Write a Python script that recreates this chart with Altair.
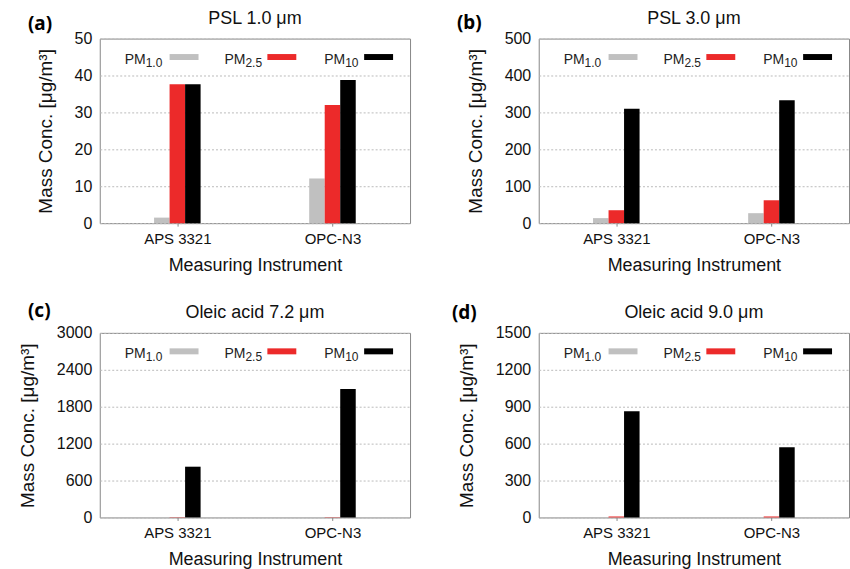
import altair as alt
import pandas as pd

# ---------------- data ----------------
instruments = ["APS 3321", "OPC-N3"]
series = ["PM1.0", "PM2.5", "PM10"]
series_sub = ["1.0", "2.5", "10"]
colors = ["#c0c0c0", "#ec2a2a", "#000000"]

psl10_pm1 = [1.5, 12.1]
psl10_pm25 = [37.6, 32.0]
psl10_pm10 = [37.6, 38.8]

psl30_pm1 = [13.6, 27.0]
psl30_pm25 = [35.0, 62.0]
psl30_pm10 = [310.0, 333.0]

ole72_pm1 = [1.0, 1.0]
ole72_pm25 = [5.0, 5.0]
ole72_pm10 = [825.0, 2089.0]

ole90_pm1 = [1.0, 1.0]
ole90_pm25 = [8.0, 8.0]
ole90_pm10 = [863.0, 570.0]

panel_titles = ["PSL 1.0 μm", "PSL 3.0 μm", "Oleic acid 7.2 μm", "Oleic acid 9.0 μm"]
panel_letters = ["(a)", "(b)", "(c)", "(d)"]
y_max = [50, 500, 3000, 1500]
y_step = [10, 100, 600, 300]

# ---------------- styling ----------------
FONT = "Liberation Sans"
W, H = 311, 185
letter_pos = [(-72, -9), (-82, -10), (-72, -16), (-87, -14)]
leg_pm_x = [25, 125, 225]
leg_sw_x = [70, 168, 265]
label_expr = "[" + ",".join("'" + s + "'" for s in instruments) + "][datum.value]"


def make_df(pm1, pm25, pm10):
    rows = []
    for j, (name, vals) in enumerate(zip(series, [pm1, pm25, pm10])):
        for i, inst in enumerate(instruments):
            rows.append({"i": i, "instrument": inst, "j": j, "series": name, "value": vals[i]})
    return pd.DataFrame(rows)


def one(text):
    return alt.Chart(pd.DataFrame({"t": [text]}))


def panel(k, pm1, pm25, pm10):
    df = make_df(pm1, pm25, pm10)
    bars = (
        alt.Chart(df)
        .transform_calculate(x0="datum.i + (datum.j - 1.5) * 0.1", x1="datum.i + (datum.j - 0.5) * 0.1")
        .mark_rect(strokeWidth=0)
        .encode(
            x=alt.X(
                "x0:Q",
                scale=alt.Scale(domain=[-0.5, 1.5], nice=False, zero=False),
                axis=alt.Axis(
                    values=[0, 1], labelExpr=label_expr, title="Measuring Instrument",
                    grid=False, domain=False, ticks=True, tickSize=3, tickColor="#888888",
                    labelFont=FONT, labelFontSize=15, labelColor="#111111", labelPadding=5,
                    labelAngle=0, titleFont=FONT, titleFontSize=18, titleFontWeight="normal",
                    titleColor="#111111", titlePadding=10,
                ),
            ),
            x2="x1:Q",
            y=alt.Y(
                "value:Q",
                scale=alt.Scale(domain=[0, y_max[k]], nice=False),
                axis=alt.Axis(
                    values=list(range(0, y_max[k] + 1, y_step[k])), format="d",
                    title="Mass Conc. [μg/m³]",
                    grid=True, gridDash=[2, 2], gridColor="#bbbbbb", gridWidth=1,
                    domain=False, ticks=False, tickSize=0,
                    labelFont=FONT, labelFontSize=16, labelColor="#111111", labelPadding=8,
                    titleFont=FONT, titleFontSize=19, titleFontWeight="normal",
                    titleColor="#111111", titlePadding=19,
                ),
            ),
            y2=alt.datum(0),
            color=alt.Color("series:N", scale=alt.Scale(domain=series, range=colors), legend=None),
        )
    )
    layers = [bars]
    layers.append(
        one(panel_titles[k]).mark_text(font=FONT, fontSize=18, baseline="middle", align="center", color="#111111")
        .encode(text="t:N", x=alt.value(W / 2), y=alt.value(-20))
    )
    lx, ly = letter_pos[k]
    layers.append(
        one(panel_letters[k]).mark_text(font="Noto Sans", fontSize=19, fontWeight="bold", baseline="alphabetic",
                                       align="left", color="#000000")
        .encode(text="t:N", x=alt.value(lx), y=alt.value(ly))
    )
    for n in range(3):
        layers.append(
            one("PM").mark_text(font=FONT, fontSize=14, baseline="alphabetic", align="left", color="#222222")
            .encode(text="t:N", x=alt.value(leg_pm_x[n]), y=alt.value(25))
        )
        layers.append(
            one(series_sub[n]).mark_text(font=FONT, fontSize=12, baseline="alphabetic", align="left", color="#222222")
            .encode(text="t:N", x=alt.value(leg_pm_x[n] + 21), y=alt.value(28))
        )
        layers.append(
            one("").mark_rect(color=colors[n])
            .encode(x=alt.value(leg_sw_x[n]), x2=alt.value(leg_sw_x[n] + 29), y=alt.value(15.5), y2=alt.value(21.5))
        )
    if k == 0:
        layers.append(
            one("").mark_rect(opacity=0, color="white")
            .encode(x=alt.value(-99), x2=alt.value(-98), y=alt.value(-37), y2=alt.value(-36))
        )
    return alt.layer(*layers).properties(width=W, height=H)


pa = panel(0, psl10_pm1, psl10_pm25, psl10_pm10)
pb = panel(1, psl30_pm1, psl30_pm25, psl30_pm10)
pc = panel(2, ole72_pm1, ole72_pm25, ole72_pm10)
pd_ = panel(3, ole90_pm1, ole90_pm25, ole90_pm10)

chart = (
    alt.concat(pa, pb, pc, pd_, columns=2, spacing={"row": 110, "column": 129}, bounds="flush")
    .properties(padding=0, background="white")
    .configure_view(stroke="#888888", strokeWidth=1)
)

chart.save("out.html", embed_options={"renderer": "svg", "actions": False})
